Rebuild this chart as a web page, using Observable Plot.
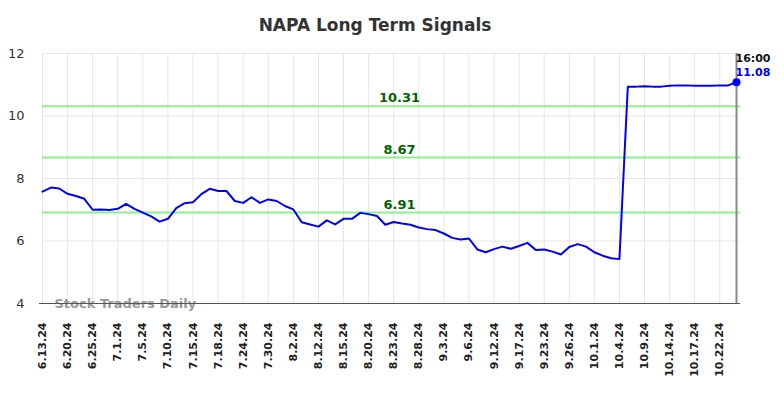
<!DOCTYPE html>
<html>
<head>
<meta charset="utf-8">
<script src="https://cdn.jsdelivr.net/npm/d3@7"></script>
<script src="https://cdn.jsdelivr.net/npm/@observablehq/plot@0.6"></script>
<style>
  body { margin: 0; background: #fff; }
  #wrap { position: relative; width: 784px; height: 398px; overflow: hidden; }
  #title { position: absolute; top: 15px; left: 0; width: 750px; text-align: center;
    font-family: "DejaVu Sans", sans-serif; font-weight: bold; font-size: 17px; color: #333; }
  #chart { position: absolute; top: 0; left: 0; }
</style>
</head>
<body>
<div id="wrap">
  <div id="chart"></div>
  <div id="title">NAPA Long Term Signals</div>
</div>
<script>
const title = "NAPA Long Term Signals";
const watermark = "Stock Traders Daily";
const lastTime = "16:00";

// x tick labels, one every 3 data points
const xLabels = ["6.13.24","6.20.24","6.25.24","7.1.24","7.5.24","7.10.24","7.15.24","7.18.24",
  "7.24.24","7.30.24","8.2.24","8.12.24","8.15.24","8.20.24","8.23.24","8.28.24","9.3.24",
  "9.6.24","9.12.24","9.17.24","9.23.24","9.26.24","10.1.24","10.4.24","10.9.24","10.14.24",
  "10.17.24","10.22.24"];
const pointsPerLabel = 3;

// price series
const values = [
  7.58, 7.71, 7.68, 7.51, 7.44, 7.35, 7.00, 7.01, 6.99, 7.03,
  7.19, 7.03, 6.91, 6.79, 6.62, 6.71, 7.05, 7.21, 7.24, 7.50,
  7.67, 7.60, 7.60, 7.28, 7.22, 7.40, 7.22, 7.33, 7.28, 7.12,
  7.01, 6.60, 6.53, 6.46, 6.66, 6.53, 6.71, 6.71, 6.90, 6.86,
  6.80, 6.52, 6.61, 6.56, 6.52, 6.43, 6.38, 6.35, 6.24, 6.10,
  6.05, 6.08, 5.73, 5.64, 5.74, 5.82, 5.75, 5.84, 5.94, 5.71,
  5.73, 5.66, 5.57, 5.81, 5.90, 5.82, 5.64, 5.53, 5.45, 5.42,
  10.94, 10.94, 10.95, 10.94, 10.94, 10.97, 10.98, 10.98, 10.97, 10.97,
  10.97, 10.98, 10.98, 11.08
];

// signal levels
const levels = [10.31, 8.67, 6.91];
const yTicks = [4, 6, 8, 10, 12];

const data = values.map((v, i) => ({i, v}));
const last = data[data.length - 1];
const tickIdx = xLabels.map((_, k) => k * pointsPerLabel);

const chart = Plot.plot({
  width: 784,
  height: 398,
  marginLeft: 42,
  marginRight: 48,
  marginTop: 53,
  marginBottom: 95,
  style: {fontFamily: "DejaVu Sans, sans-serif", background: "white"},
  x: {domain: [0, values.length - 1], axis: null, label: null},
  y: {domain: [4, 12], axis: null, label: null},
  marks: [
    Plot.gridX(tickIdx, {stroke: "#e6e6e6", strokeOpacity: 1}),
    Plot.gridY(yTicks, {stroke: "#e6e6e6", strokeOpacity: 1, insetRight: -4}),
    Plot.ruleY(levels, {stroke: "#90ee90", strokeWidth: 2, insetRight: -4}),
    Plot.text(levels, {y: d => d, text: d => d.toFixed(2), dx: 10, dy: -8,
      fill: "#006400", fontWeight: "bold", fontSize: 13}),
    Plot.axisY(yTicks, {tickSize: 0, tickPadding: 18, fontSize: 13, fill: "#333", label: null}),
    Plot.text(xLabels, {x: (d, k) => k * pointsPerLabel, frameAnchor: "bottom", rotate: -90,
      textAnchor: "end", lineAnchor: "middle", dy: 19, fontSize: 11, fontWeight: "bold", fill: "#222"}),
    Plot.ruleX([last.i], {stroke: "#888", strokeWidth: 2}),
    Plot.text([watermark], {frameAnchor: "bottom-left", textAnchor: "start", lineAnchor: "middle",
      dx: 12, dy: 0, fill: "#999", fontWeight: "bold", fontSize: 13}),
    Plot.ruleY([4], {stroke: "#555", insetLeft: -3, insetRight: -4}),
    Plot.line(data, {x: "i", y: "v", stroke: "#0000ff", strokeWidth: 2}),
    Plot.dot([last], {x: "i", y: "v", r: 4, fill: "#0000ff"}),
    Plot.text([last], {x: "i", y: "v", text: () => lastTime, textAnchor: "start", dx: -1, dy: -24,
      fill: "#111", fontWeight: "bold", fontSize: 11}),
    Plot.text([last], {x: "i", y: "v", text: d => d.v.toFixed(2), textAnchor: "start", dx: -1, dy: -10,
      fill: "#0000ff", fontWeight: "bold", fontSize: 11})
  ]
});
document.getElementById("chart").appendChild(chart);
</script>
</body>
</html>
